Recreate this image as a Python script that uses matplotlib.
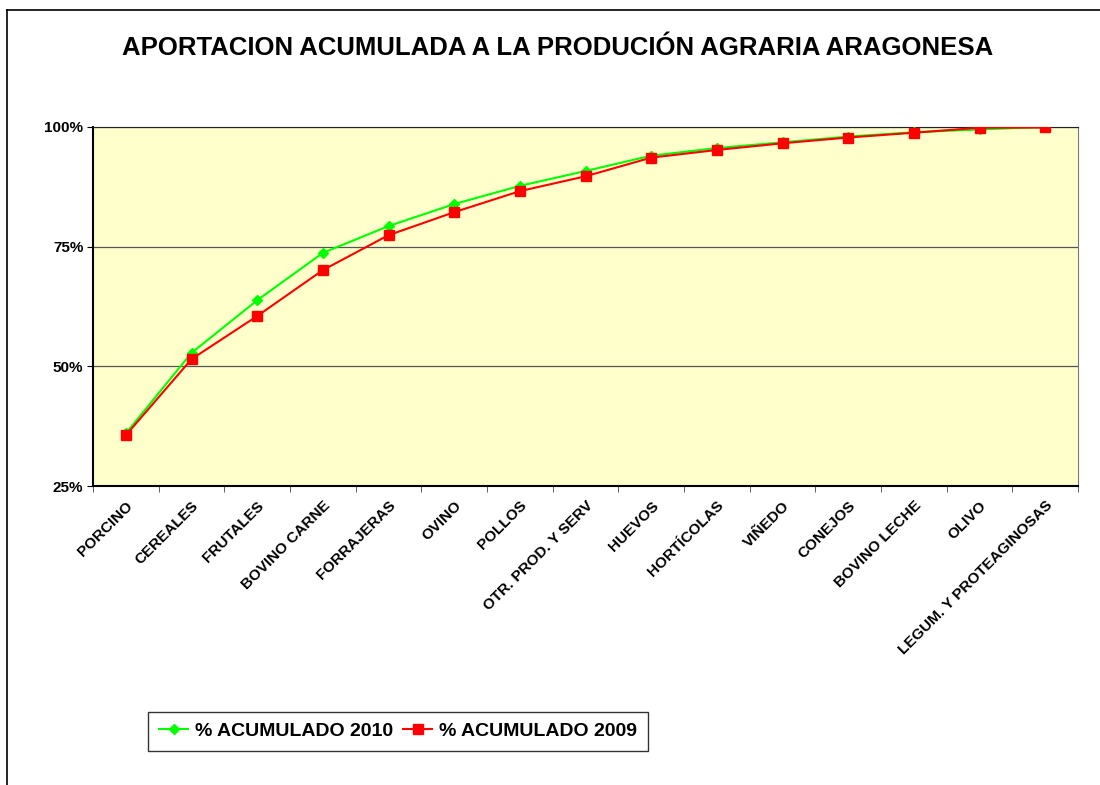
import matplotlib
matplotlib.use("Agg")
import matplotlib.pyplot as plt
from matplotlib.lines import Line2D
from matplotlib.ticker import FixedLocator, PercentFormatter

plt.rcParams['font.family'] = ['Liberation Sans', 'DejaVu Sans']

# --- data ---
categories = ["PORCINO", "CEREALES", "FRUTALES", "BOVINO CARNE", "FORRAJERAS",
              "OVINO", "POLLOS", "OTR. PROD. Y SERV", "HUEVOS", "HORTÍCOLAS",
              "VIÑEDO", "CONEJOS", "BOVINO LECHE", "OLIVO",
              "LEGUM. Y PROTEAGINOSAS"]
acum_2010 = [36.0, 52.8, 63.8, 73.7, 79.3, 83.9, 87.7, 90.8, 94.0, 95.6,
             96.8, 98.0, 98.9, 99.5, 100.0]
acum_2009 = [35.6, 51.5, 60.5, 70.1, 77.4, 82.2, 86.6, 89.7, 93.6, 95.2,
             96.6, 97.8, 98.8, 99.85, 99.9]
y_ticks = [25, 50, 75, 100]

fig = plt.figure(figsize=(11, 7.85), dpi=100)
ax = fig.add_axes([93 / 1100, 1 - 486 / 785, 985 / 1100, 359 / 785])
ax.set_facecolor("#FFFFCC")

x = list(range(len(categories)))
ax.plot(x, acum_2010, color="#00FF00", lw=1.5, marker="D", ms=5.5,
        label="% ACUMULADO 2010", zorder=3)
ax.plot(x, acum_2009, color="#FF0000", lw=1.5, marker="s", ms=7,
        label="% ACUMULADO 2009", zorder=4)

ax.set_xlim(-0.5, len(categories) - 0.5)
ax.set_ylim(25, 100)
ax.set_yticks(y_ticks)
ax.yaxis.set_major_formatter(PercentFormatter(decimals=0))
ax.grid(axis="y", color="#555555", lw=0.9)
ax.set_axisbelow(True)

ax.set_xticks(x)
ax.set_xticklabels(categories, rotation=45, ha="right", rotation_mode="anchor",
                   fontsize=11, fontweight="bold")
ax.tick_params(axis="x", which="major", length=0, pad=9)
ax.xaxis.set_minor_locator(FixedLocator([i - 0.5 for i in range(len(categories) + 1)]))
ax.tick_params(axis="x", which="minor", length=4, color="#444444")
ax.tick_params(axis="y", length=4, labelsize=11, pad=3)
for lbl in ax.get_yticklabels():
    lbl.set_fontweight("bold")

ax.spines["left"].set_linewidth(1.5)
ax.spines["bottom"].set_linewidth(1.5)
ax.spines["top"].set_color("#222222")
ax.spines["right"].set_color("#777777")

fig.text(558 / 1100, 1 - 48 / 785,
         "APORTACION ACUMULADA A LA PRODUCIÓN AGRARIA ARAGONESA",
         ha="center", va="center", fontsize=18.5, fontweight="bold")

leg = fig.legend(loc="center", bbox_to_anchor=(398 / 1100, 1 - 731 / 785),
                 ncol=2, frameon=True, fancybox=False, edgecolor="black",
                 prop={"weight": "bold", "size": 14}, handlelength=1.5,
                 handletextpad=0.35, columnspacing=0.5, borderpad=0.55,
                 borderaxespad=0)
leg.get_frame().set_linewidth(1.0)

# outer chart-area border
fig.add_artist(Line2D([7 / 1100, 7 / 1100], [0, 1 - 10 / 785], color="black", lw=1.2))
fig.add_artist(Line2D([7 / 1100, 1], [1 - 10 / 785, 1 - 10 / 785], color="black", lw=1.2))

fig.savefig("out.png", dpi=100)
